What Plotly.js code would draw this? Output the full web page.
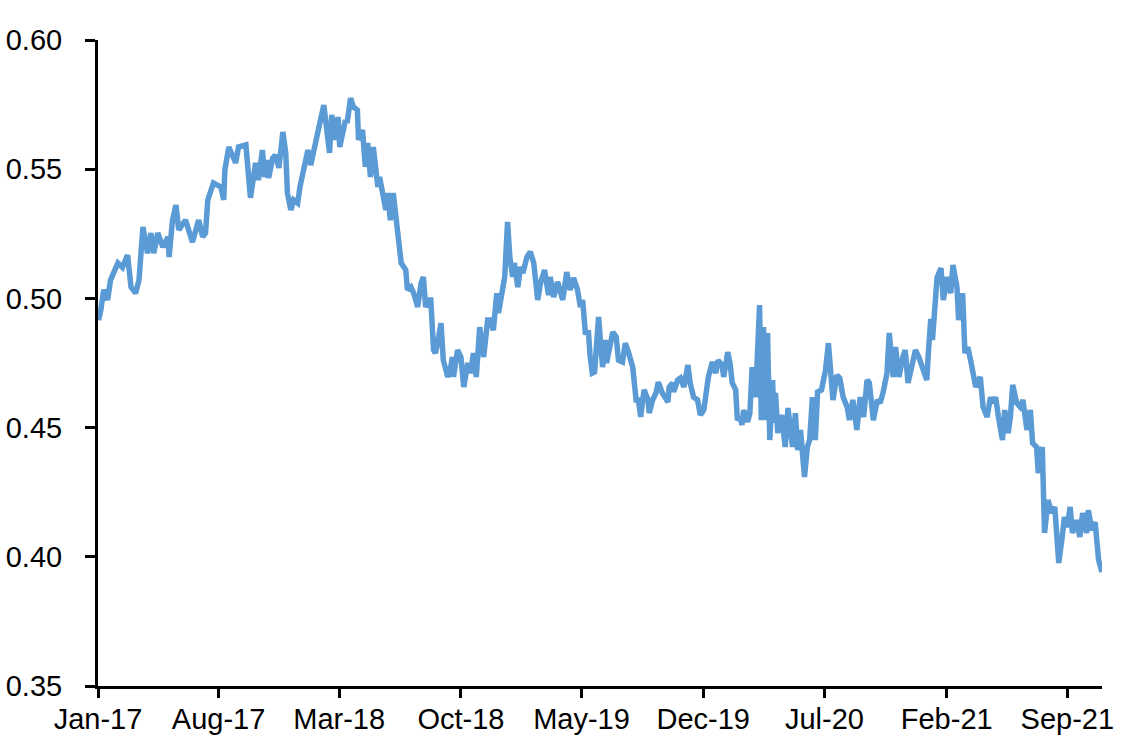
<!DOCTYPE html>
<html>
<head>
<meta charset="utf-8">
<script src="https://cdn.plot.ly/plotly-3.0.1.min.js"></script>
<style>
html,body{margin:0;padding:0;background:#fff;}
#chart{width:1142px;height:746px;}
</style>
</head>
<body>
<div id="chart"></div>
<script>
var dates2017 = ['2017-01-02','2017-01-06','2017-01-11','2017-01-18','2017-01-23','2017-01-30','2017-02-05','2017-02-13','2017-02-22','2017-02-28','2017-03-08','2017-03-14','2017-03-21','2017-03-29','2017-04-04','2017-04-09','2017-04-16','2017-04-25','2017-05-04','2017-05-06','2017-05-12','2017-05-18','2017-05-23','2017-05-29','2017-06-04','2017-06-10','2017-06-16','2017-06-27','2017-07-04','2017-07-09','2017-07-13','2017-07-23','2017-08-05','2017-08-10','2017-08-12','2017-08-19','2017-08-31','2017-09-05','2017-09-18','2017-09-26','2017-10-05','2017-10-10','2017-10-17','2017-10-21','2017-10-26','2017-10-28','2017-11-04','2017-11-09','2017-11-15','2017-11-22','2017-11-27','2017-11-30','2017-12-06','2017-12-11','2017-12-18','2017-12-22','2017-12-29'];
var values2017 = [0.4916,0.4955,0.5033,0.4994,0.5071,0.511,0.5137,0.512,0.5168,0.5044,0.502,0.507,0.5276,0.5175,0.5253,0.5175,0.5253,0.5199,0.5238,0.516,0.5303,0.5361,0.5265,0.5285,0.5303,0.526,0.5218,0.5303,0.5238,0.5253,0.5381,0.5447,0.5431,0.5381,0.5497,0.5586,0.5524,0.5586,0.5594,0.5389,0.5524,0.5458,0.5574,0.547,0.5536,0.5466,0.5543,0.5555,0.5505,0.5644,0.5563,0.5408,0.5342,0.5381,0.5369,0.5431,0.5509];

var dates2018 = ['2018-01-05','2018-01-10','2018-01-15','2018-01-22','2018-01-26','2018-02-02','2018-02-09','2018-02-12','2018-02-16','2018-02-22','2018-02-27','2018-03-02','2018-03-12','2018-03-15','2018-03-21','2018-03-26','2018-04-02','2018-04-04','2018-04-11','2018-04-16','2018-04-20','2018-04-25','2018-04-30','2018-05-08','2018-05-11','2018-05-22','2018-05-25','2018-05-30','2018-06-04','2018-06-08','2018-06-13','2018-06-18','2018-06-26','2018-06-29','2018-07-05','2018-07-10','2018-07-17','2018-07-23','2018-07-27','2018-07-31','2018-08-06','2018-08-09','2018-08-14','2018-08-17','2018-08-21','2018-08-27','2018-08-31','2018-09-08','2018-09-13','2018-09-16','2018-09-18','2018-09-25','2018-10-01','2018-10-06','2018-10-13','2018-10-18','2018-10-23','2018-10-28','2018-11-03','2018-11-10','2018-11-17','2018-11-22','2018-11-27','2018-12-03','2018-12-06','2018-12-13','2018-12-17','2018-12-22','2018-12-26','2018-12-31'];
var values2018 = [0.5574,0.5516,0.5574,0.5652,0.5679,0.5748,0.5601,0.5563,0.571,0.5613,0.5702,0.5586,0.569,0.5679,0.5775,0.5741,0.5729,0.5613,0.5652,0.5509,0.5601,0.547,0.5586,0.5431,0.547,0.5342,0.5408,0.5303,0.5408,0.5315,0.5214,0.5137,0.511,0.5033,0.5044,0.502,0.4967,0.506,0.5083,0.4967,0.4994,0.4994,0.48,0.4788,0.4827,0.4904,0.4761,0.4696,0.4734,0.4773,0.4696,0.48,0.4773,0.4657,0.475,0.4711,0.4788,0.4696,0.4889,0.4773,0.4916,0.4916,0.4877,0.502,0.4943,0.5033,0.5083,0.5296,0.516,0.5083];

var dates2019 = ['2019-01-03','2019-01-09','2019-01-14','2019-01-18','2019-01-25','2019-01-31','2019-02-06','2019-02-13','2019-02-18','2019-02-25','2019-03-04','2019-03-07','2019-03-13','2019-03-20','2019-03-29','2019-04-05','2019-04-11','2019-04-17','2019-04-24','2019-04-29','2019-05-03','2019-05-08','2019-05-13','2019-05-16','2019-05-20','2019-05-24','2019-05-31','2019-06-07','2019-06-12','2019-06-14','2019-06-25','2019-07-01','2019-07-05','2019-07-12','2019-07-17','2019-07-23','2019-07-30','2019-08-05','2019-08-09','2019-08-13','2019-08-19','2019-08-26','2019-08-28','2019-09-03','2019-09-09','2019-09-13','2019-09-20','2019-09-30','2019-10-02','2019-10-08','2019-10-10','2019-10-17','2019-10-22','2019-10-28','2019-11-04','2019-11-08','2019-11-14','2019-11-21','2019-11-26','2019-12-02','2019-12-10','2019-12-17','2019-12-23','2019-12-27'];
var values2019 = [0.5137,0.5044,0.5122,0.5098,0.516,0.518,0.5137,0.4994,0.506,0.511,0.5013,0.5083,0.5005,0.5064,0.4994,0.5102,0.5033,0.5079,0.5033,0.4967,0.4994,0.486,0.4877,0.478,0.4711,0.4715,0.4928,0.4734,0.4839,0.475,0.487,0.4851,0.4761,0.4754,0.4827,0.4788,0.4734,0.4607,0.4607,0.4541,0.4646,0.4607,0.4556,0.4607,0.4634,0.4676,0.4634,0.4599,0.4657,0.4673,0.4638,0.4684,0.4692,0.4657,0.4742,0.4673,0.4618,0.4607,0.4549,0.4568,0.4696,0.4754,0.4711,0.4761];

var dates2020 = ['2020-01-03','2020-01-06','2020-01-13','2020-01-17','2020-01-21','2020-01-27','2020-01-30','2020-02-04','2020-02-07','2020-02-10','2020-02-17','2020-02-21','2020-02-25','2020-03-02','2020-03-05','2020-03-09','2020-03-12','2020-03-16','2020-03-19','2020-03-23','2020-03-27','2020-04-01','2020-04-03','2020-04-06','2020-04-10','2020-04-17','2020-04-23','2020-04-28','2020-05-06','2020-05-11','2020-05-15','2020-05-20','2020-05-27','2020-06-01','2020-06-05','2020-06-10','2020-06-15','2020-06-19','2020-06-26','2020-07-03','2020-07-08','2020-07-10','2020-07-16','2020-07-23','2020-07-28','2020-08-03','2020-08-10','2020-08-14','2020-08-20','2020-08-27','2020-09-02','2020-09-08','2020-09-14','2020-09-18','2020-09-25','2020-10-02','2020-10-07','2020-10-12','2020-10-19','2020-10-23','2020-10-30','2020-11-03','2020-11-09','2020-11-16','2020-11-20','2020-11-25','2020-12-02','2020-12-08','2020-12-14','2020-12-21','2020-12-28','2020-12-31'];
var values2020 = [0.4742,0.4696,0.4792,0.475,0.4673,0.4646,0.4529,0.454,0.451,0.4568,0.4522,0.4556,0.4734,0.4618,0.475,0.4974,0.4529,0.4889,0.4529,0.4866,0.4452,0.4684,0.4518,0.4634,0.4479,0.4549,0.4425,0.4576,0.4425,0.4556,0.4413,0.4491,0.4309,0.4425,0.4452,0.4618,0.4452,0.4638,0.4646,0.4723,0.4827,0.475,0.4607,0.4703,0.4692,0.4618,0.458,0.4529,0.4607,0.4491,0.4618,0.4541,0.4684,0.4673,0.4529,0.4607,0.4595,0.4634,0.4711,0.4866,0.4696,0.4812,0.4696,0.4773,0.48,0.4673,0.475,0.48,0.4773,0.4723,0.4684,0.48];

var dates2021 = ['2021-01-04','2021-01-07','2021-01-11','2021-01-15','2021-01-22','2021-01-26','2021-02-02','2021-02-08','2021-02-12','2021-02-19','2021-02-22','2021-03-01','2021-03-05','2021-03-10','2021-03-15','2021-03-19','2021-03-24','2021-04-01','2021-04-06','2021-04-13','2021-04-19','2021-04-23','2021-04-28','2021-05-03','2021-05-10','2021-05-14','2021-05-20','2021-05-24','2021-05-28','2021-06-04','2021-06-10','2021-06-15','2021-06-22','2021-06-28','2021-07-02','2021-07-09','2021-07-12','2021-07-19','2021-07-23','2021-07-29','2021-08-05','2021-08-10','2021-08-13','2021-08-17','2021-08-23','2021-08-27','2021-09-01','2021-09-06','2021-09-10','2021-09-17','2021-09-23','2021-09-28','2021-10-05','2021-10-08','2021-10-14','2021-10-20','2021-10-26','2021-11-01'];
var values2021 = [0.492,0.4839,0.5005,0.508,0.5117,0.4994,0.5083,0.502,0.5129,0.5044,0.4916,0.502,0.4788,0.4812,0.4761,0.4723,0.4657,0.4696,0.458,0.4541,0.4618,0.4595,0.4618,0.4541,0.4452,0.4568,0.4479,0.4541,0.4665,0.4595,0.458,0.4607,0.4491,0.4568,0.444,0.4425,0.4324,0.4425,0.4092,0.422,0.4169,0.4193,0.4077,0.3976,0.4077,0.4154,0.4115,0.4193,0.4092,0.4142,0.4077,0.4169,0.4092,0.418,0.4103,0.4134,0.3988,0.3941];

var xTickDates = ['2017-01-01','2017-08-01','2018-03-01','2018-10-01','2019-05-01','2019-12-01','2020-07-01','2021-02-01','2021-09-01'];
var xTickLabels = ['Jan-17','Aug-17','Mar-18','Oct-18','May-19','Dec-19','Jul-20','Feb-21','Sep-21'];
var yTickValues = [0.35,0.40,0.45,0.50,0.55,0.60];
var yTickLabels = ['0.35','0.40','0.45','0.50','0.55','0.60'];

var xs = [].concat(dates2017, dates2018, dates2019, dates2020, dates2021);
var ys = [].concat(values2017, values2018, values2019, values2020, values2021);

var trace = {
  x: xs, y: ys, type: 'scatter', mode: 'lines',
  line: {color: '#5B9BD5', width: 5.5, shape: 'linear'},
  hoverinfo: 'x+y', showlegend: false
};

var font = {family: 'Liberation Sans, Arial, sans-serif', size: 29, color: '#000'};

var layout = {
  width: 1142, height: 746,
  margin: {l: 98, r: 40, t: 40, b: 60, pad: 0},
  paper_bgcolor: '#fff', plot_bgcolor: '#fff',
  font: font,
  showlegend: false,
  xaxis: {
    type: 'date',
    range: ['2017-01-01', '2021-11-01'],
    tickmode: 'array', tickvals: xTickDates, ticktext: xTickLabels,
    ticks: 'outside', ticklen: 9, tickwidth: 3, tickcolor: '#000',
    showline: true, linecolor: '#000', linewidth: 3,
    showgrid: false, zeroline: false,
    tickfont: font, ticklabelstandoff: -4
  },
  yaxis: {
    range: [0.35, 0.60],
    tickmode: 'array', tickvals: yTickValues, ticktext: yTickLabels,
    ticks: 'outside', ticklen: 10, tickwidth: 3, tickcolor: '#000',
    showline: true, linecolor: '#000', linewidth: 3,
    showgrid: false, zeroline: false,
    tickfont: font, ticklabelstandoff: 17
  }
};

Plotly.newPlot('chart', [trace], layout, {displayModeBar: false, staticPlot: true});
</script>
</body>
</html>
